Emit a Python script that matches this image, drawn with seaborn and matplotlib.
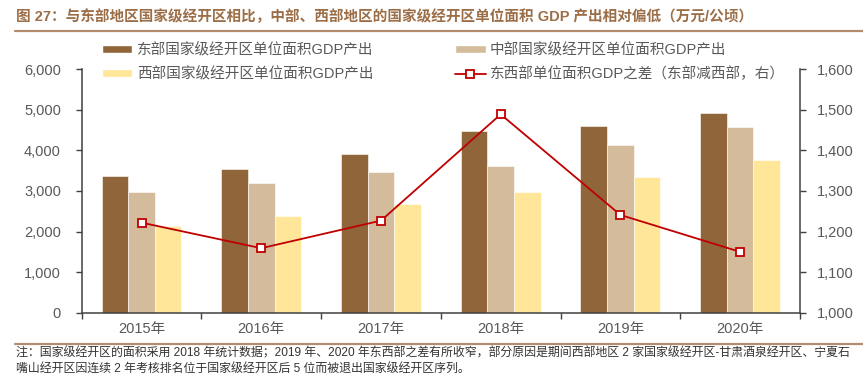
import matplotlib
matplotlib.use("Agg")
import numpy as np
import pandas as pd
import seaborn as sns
import matplotlib.pyplot as plt
from matplotlib.lines import Line2D
from matplotlib.patches import Patch
from matplotlib.ticker import FuncFormatter, FixedLocator

# ---------------- data ----------------
years = ["2015年", "2016年", "2017年", "2018年", "2019年", "2020年"]
east = [3362, 3550, 3912, 4471, 4602, 4915]
mid = [2975, 3197, 3461, 3616, 4126, 4570]
west = [2130, 2391, 2680, 2983, 3353, 3764]
diff = [1222, 1159, 1227, 1489, 1241, 1150]

s_east = "东部国家级经开区单位面积GDP产出"
s_mid = "中部国家级经开区单位面积GDP产出"
s_west = "西部国家级经开区单位面积GDP产出"
s_diff = "东西部单位面积GDP之差（东部减西部，右）"

title = "图 27：与东部地区国家级经开区相比，中部、西部地区的国家级经开区单位面积 GDP 产出相对偏低（万元/公顷）"
note1 = "注：国家级经开区的面积采用 2018 年统计数据；2019 年、2020 年东西部之差有所收窄，部分原因是期间西部地区 2 家国家级经开区-甘肃酒泉经开区、宁夏石"
note2 = "嘴山经开区因连续 2 年考核排名位于国家级经开区后 5 位而被退出国家级经开区序列。"

left_ticks = [0, 1000, 2000, 3000, 4000, 5000, 6000]
right_ticks = [1000, 1100, 1200, 1300, 1400, 1500, 1600]

c_east, c_mid, c_west = "#8F6539", "#D3BB9B", "#FFE699"
c_line = "#C00000"
c_axis = "#404040"
c_text = "#595959"

# ---------------- style ----------------
sns.set_theme(style="white")
plt.rcParams["font.family"] = ["Liberation Sans", "Noto Sans CJK SC"]
plt.rcParams["axes.unicode_minus"] = False

W, H = 863, 379
fig = plt.figure(figsize=(W / 100, H / 100), dpi=100)
ax = fig.add_axes([81.7 / W, 1 - 312.7 / H, (800 - 81.7) / W, (312.7 - 69.3) / H])

df = pd.DataFrame({
    "year": years * 3,
    "series": [s_east] * len(years) + [s_mid] * len(years) + [s_west] * len(years),
    "value": east + mid + west,
})

sns.barplot(data=df, x="year", y="value", hue="series", order=years,
            hue_order=[s_east, s_mid, s_west],
            palette=[c_east, c_mid, c_west], saturation=1,
            width=0.667, gap=0, legend=False, ax=ax,
            edgecolor="white", linewidth=0.4)

ax2 = ax.twinx()
sns.pointplot(x=years, y=diff, order=years, ax=ax2, color=c_line,
              markers="s", linestyles="-",
              markersize=6, linewidth=1.3,
              markerfacecolor="white", markeredgecolor=c_line,
              markeredgewidth=1.3)

# axes limits and ticks
ax.set_xlim(-0.5, len(years) - 0.5)
ax.set_ylim(left_ticks[0], left_ticks[-1])
ax2.set_ylim(right_ticks[0], right_ticks[-1])

ax.set_yticks(left_ticks)
ax2.set_yticks(right_ticks)
fmt = FuncFormatter(lambda v, p: f"{int(v):,}")
ax.yaxis.set_major_formatter(fmt)
ax2.yaxis.set_major_formatter(fmt)

ax.xaxis.set_major_locator(FixedLocator(np.arange(-0.5, len(years), 1.0)))
ax.xaxis.set_minor_locator(FixedLocator(np.arange(len(years))))
ax.set_xticklabels([], minor=False)
ax.set_xticklabels(years, minor=True)
ax.tick_params(axis="x", which="major", length=4, width=1, color=c_axis, direction="out", bottom=True)
ax.tick_params(axis="x", which="minor", length=0, pad=7, labelsize=10.5, labelcolor=c_text)
ax.tick_params(axis="y", length=4, width=1, color=c_axis, direction="out", left=True,
               pad=11, labelsize=10.5, labelcolor=c_text)
ax2.tick_params(axis="y", length=4, width=1, color=c_axis, direction="out", right=True,
                pad=8, labelsize=10.5, labelcolor=c_text)

for a in (ax, ax2):
    a.set_xlabel("")
    a.set_ylabel("")
    a.spines["top"].set_visible(False)
    for s in ("left", "right", "bottom"):
        a.spines[s].set_color(c_axis)
        a.spines[s].set_linewidth(1.1)
ax.spines["right"].set_visible(False)
ax2.spines["left"].set_visible(False)
ax2.spines["bottom"].set_visible(False)
ax.grid(False)
ax2.grid(False)

# ---------------- legends ----------------
leg_kw = dict(frameon=False, fontsize=10.5, labelcolor=c_text, handlelength=2.1,
              handleheight=0.5, handletextpad=0.3, borderpad=0, borderaxespad=0,
              labelspacing=0.62)
h1 = [Patch(facecolor=c_east), Patch(facecolor=c_west)]
l1 = fig.legend(h1, [s_east, s_west], loc="upper left",
                bbox_to_anchor=(101.7 / W, 1 - 43 / H), **leg_kw)
h2 = [Patch(facecolor=c_mid),
      Line2D([], [], color=c_line, lw=1.3, marker="s", markersize=6,
             markerfacecolor="white", markeredgecolor=c_line, markeredgewidth=1.3)]
l2 = fig.legend(h2, [s_mid, s_diff], loc="upper left",
                bbox_to_anchor=(455 / W, 1 - 43 / H), **leg_kw)

# ---------------- title, rules, notes ----------------
fig.text(16 / W, 1 - 17 / H, title, fontsize=10.5, fontweight="bold",
         color="#9C6E47", va="center", ha="left")
fig.add_artist(Line2D([15 / W, 1.0], [1 - 31 / H] * 2, color="#B38B6D", lw=1.6))
fig.add_artist(Line2D([15 / W, 1.0], [1 - 344 / H] * 2, color="#B38B6D", lw=1.6))
fig.text(16 / W, 1 - 353 / H, note1, fontsize=8.6, color="#333333", va="center", ha="left")
fig.text(16 / W, 1 - 369.5 / H, note2, fontsize=8.6, color="#333333", va="center", ha="left")

fig.savefig("out.png", dpi=100)
